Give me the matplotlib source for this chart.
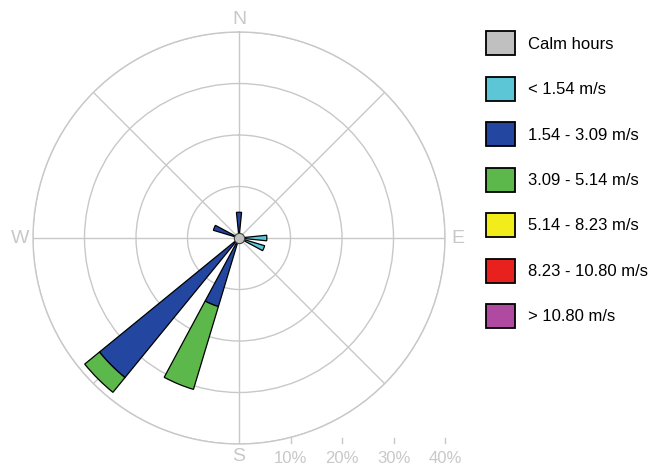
import numpy as np
import matplotlib.pyplot as plt
from matplotlib.patches import Patch

plt.rcParams['font.family'] = ['Liberation Sans', 'DejaVu Sans']

# 16 compass sectors, clockwise from north
directions = ['N', 'NNE', 'NE', 'ENE', 'E', 'ESE', 'SE', 'SSE',
              'S', 'SSW', 'SW', 'WSW', 'W', 'WNW', 'NW', 'NNW']

# frequency (%) per speed class and sector
speed_lt_154   = [0, 0, 0, 0, 5.4, 5.2, 0, 0, 0, 0, 0, 0, 0, 0, 0, 0]
speed_154_309  = [5.0, 0, 0, 0, 0, 0, 0, 0, 0, 13.9, 35.0, 0, 0, 5.2, 0, 0]
speed_309_514  = [0, 0, 0, 0, 0, 0, 0, 0, 0, 16.8, 3.7, 0, 0, 0, 0, 0]
speed_514_823  = [0] * 16
speed_823_1080 = [0] * 16
speed_gt_1080  = [0] * 16

class_labels = ['< 1.54 m/s', '1.54 - 3.09 m/s', '3.09 - 5.14 m/s',
                '5.14 - 8.23 m/s', '8.23 - 10.80 m/s', '> 10.80 m/s']
class_colors = ['#5cc6d6', '#2347a0', '#5cb84a', '#f2ec1a', '#e8201e', '#b04aa0']
calm_color = '#c0c0c0'

ring_ticks = [10, 20, 30, 40]
grey = '#c8c8c8'

fig = plt.figure(figsize=(6.51, 4.66), dpi=100)
ax = fig.add_axes([0.0507, 0.0472, 0.6329, 0.8841], projection='polar')
ax.set_theta_zero_location('N')
ax.set_theta_direction(-1)
ax.set_ylim(0, 40)

theta = np.deg2rad(np.arange(16) * 22.5)
width = np.deg2rad(11.5)
bottom = np.zeros(16)
for vals, col in zip([speed_lt_154, speed_154_309, speed_309_514,
                      speed_514_823, speed_823_1080, speed_gt_1080], class_colors):
    vals = np.array(vals, dtype=float)
    m = vals > 0
    ax.bar(theta[m], vals[m], width=width, bottom=bottom[m], color=col,
           edgecolor='black', linewidth=0.9, zorder=3)
    bottom += vals

# calm-hours marker in the middle
ax.scatter([0], [0], s=55, color=calm_color, edgecolor='#404040',
           linewidth=0.8, zorder=5, clip_on=False)

# grid
ax.set_rgrids(ring_ticks, labels=[''] * len(ring_ticks))
ax.set_thetagrids(np.arange(0, 360, 45), labels=[''] * 8)
ax.grid(True, color=grey, linewidth=1.0)
ax.spines['polar'].set_color(grey)
ax.spines['polar'].set_linewidth(1.0)
ax.tick_params(length=0)

for lab, ang in zip(['N', 'E', 'S', 'W'], [0, 90, 180, 270]):
    ax.text(np.deg2rad(ang), 42.5, lab, ha='center', va='center',
            fontsize=14, color=grey)

# percentage scale under the rose
for r in ring_ticks:
    xa = 0.5 + r / 80
    ax.plot([xa, xa], [0.002, 0.014], transform=ax.transAxes, color=grey,
            linewidth=1.0, clip_on=False)
    ax.text(xa, -0.034, f'{r}%', transform=ax.transAxes, ha='center',
            va='center', fontsize=12, color=grey)

handles = [Patch(facecolor=calm_color, edgecolor='black', linewidth=1.3)]
handles += [Patch(facecolor=c, edgecolor='black', linewidth=1.3) for c in class_colors]
labels = ['Calm hours'] + class_labels
fig.legend(handles, labels, loc='upper left', bbox_to_anchor=(0.747, 0.933),
           frameon=False, fontsize=12, handlelength=1.75, handleheight=1.85,
           labelspacing=1.28, handletextpad=0.75, borderpad=0, borderaxespad=0)

fig.savefig('out.png', dpi=100)
